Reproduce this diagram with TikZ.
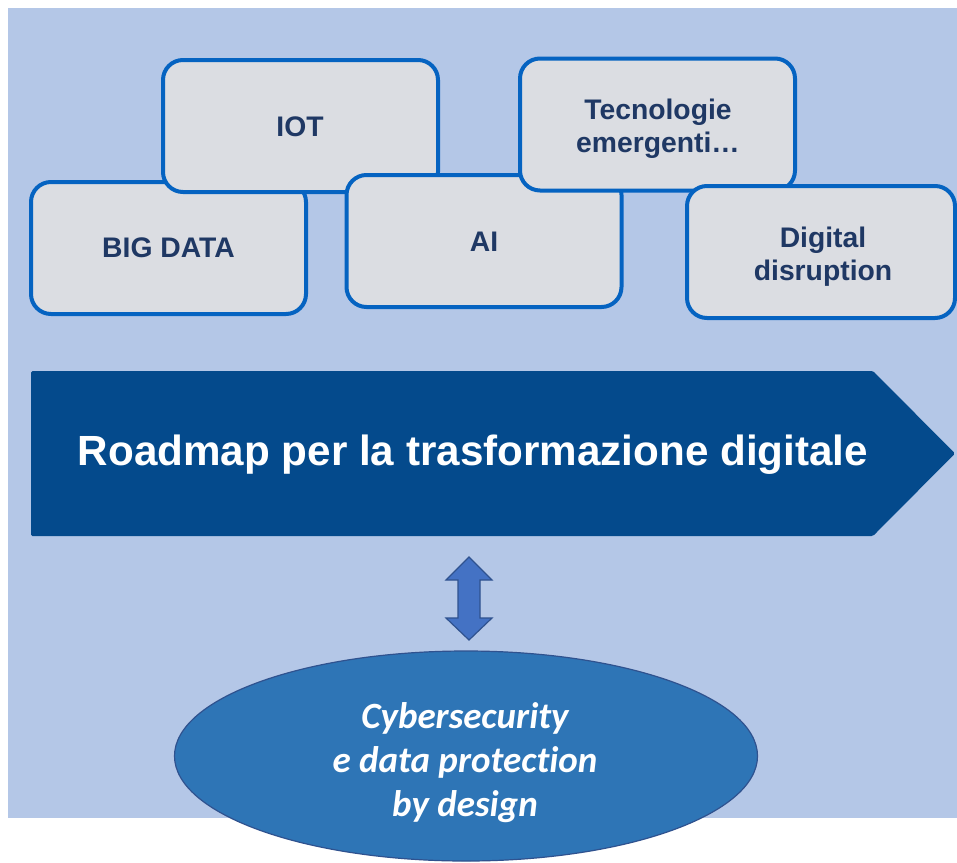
\documentclass[tikz,border=0pt]{standalone}
\usepackage{fontspec}
\setmainfont{Liberation Sans}
\newfontfamily\carlito[Ligatures=NoCommon]{Carlito}
\usetikzlibrary{shapes.geometric}
\definecolor{bgblue}{RGB}{180,199,231}
\definecolor{boxfill}{RGB}{219,221,226}
\definecolor{boxline}{RGB}{5,99,193}
\definecolor{boxtext}{RGB}{31,56,100}
\definecolor{roadblue}{RGB}{4,74,140}
\definecolor{ellfill}{RGB}{46,117,182}
\definecolor{ellline}{RGB}{47,82,143}
\definecolor{arrfill}{RGB}{68,114,196}
\tikzset{
  techbox/.style={draw=boxline, line width=4pt, fill=boxfill, rounded corners=20pt,
    minimum width=275pt, minimum height=132pt, inner sep=0pt},
  boxlabel/.style={align=center, inner sep=0pt,
    text=boxtext, font=\fontsize{28.3}{33}\selectfont\bfseries},
}
\begin{document}
\begin{tikzpicture}[x=1pt,y=-1pt]
\useasboundingbox (0,0) rectangle (957,862);
\fill[white] (0,0) rectangle (957,862);
\fill[bgblue] (8,8) rectangle (957,818);
% boxes
\node[techbox] (bigdata) at (168.5,248) {};
\node[boxlabel] (bigdatatext) at (168.5,248) {BIG DATA};
\node[techbox] (iot) at (300.5,126) {};
\node[boxlabel] (iottext) at (300,127) {IOT};
\node[techbox] (ai) at (484,241) {};
\node[boxlabel] (aitext) at (484,242) {AI};
\node[techbox] (tech) at (657.5,124.5) {};
\node[boxlabel] (techtext) at (658,129) {Tecnologie\\emergenti\dots};
\node[techbox, minimum width=268pt] (digital) at (821,252) {};
\node[boxlabel] (digitaltext) at (823,257) {Digital\\disruption};
% roadmap chevron
\fill[roadblue, rounded corners=1.5pt] (31,371) -- (873,371) -- (955,453.5) -- (873,536) -- (31,536) -- cycle;
\node[text=white, font=\fontsize{42.2}{48}\selectfont\bfseries] (road) at (473,455) {Roadmap per la trasformazione digitale};
% double arrow
\filldraw[fill=arrfill, draw=ellline, line width=1.2pt, line join=miter]
  (469,557) -- (492,580) -- (480,580) -- (480,618) -- (492,618) -- (469,640)
  -- (446,618) -- (458,618) -- (458,580) -- (446,580) -- cycle;
% ellipse
\node[ellipse, draw=ellline, line width=1.2pt, fill=ellfill, minimum width=583pt, minimum height=210pt, inner sep=0pt] (cyber) at (466,756) {};
\node[text=white, align=center, font=\carlito\fontsize{37}{44}\selectfont\bfseries\itshape] (cybertext) at (465,763) {Cybersecurity\\e data protection\\by design};
\end{tikzpicture}
\end{document}
